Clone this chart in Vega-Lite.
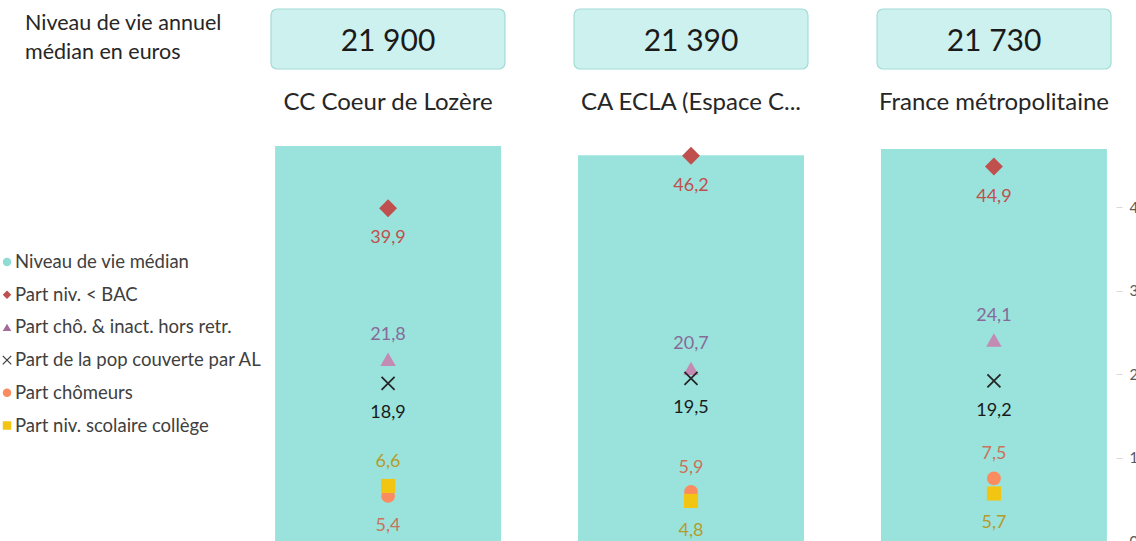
{
  "$schema": "https://vega.github.io/schema/vega-lite/v6.json",
  "padding": {"left": 0, "top": 8, "right": 0, "bottom": 0},
  "background": "white",
  "bounds": "flush",
  "columns": 2,
  "spacing": {"row": 55, "column": 16},
  "config": {
    "view": {"stroke": null},
    "font": "Lato",
    "locale": {"number": {"decimal": ",", "thousands": " ", "grouping": [3], "currency": ["", " €"]}}
  },
  "datasets": {
    "territoires": [
      {"territoire": "CC Coeur de Lozère", "niveau": 21900, "bac": 39.9, "choinact": 21.8, "al": 18.9, "chomeurs": 5.4, "college": 6.6},
      {"territoire": "CA ECLA (Espace Communautaire Lons Agglomération)", "niveau": 21390, "bac": 46.2, "choinact": 20.7, "al": 19.5, "chomeurs": 5.9, "college": 4.8},
      {"territoire": "France métropolitaine", "niveau": 21730, "bac": 44.9, "choinact": 24.1, "al": 19.2, "chomeurs": 7.5, "college": 5.7}
    ],
    "legende": [
      {"serie": "niveau", "nom": "Niveau de vie médian"},
      {"serie": "bac", "nom": "Part niv. < BAC"},
      {"serie": "choinact", "nom": "Part chô. & inact. hors retr."},
      {"serie": "al", "nom": "Part de la pop couverte par AL"},
      {"serie": "chomeurs", "nom": "Part chômeurs"},
      {"serie": "college", "nom": "Part niv. scolaire collège"}
    ]
  },
  "concat": [
    {
      "width": 250,
      "height": 60,
      "data": {"values": [{"t": "Niveau de vie annuel\nmédian en euros"}]},
      "mark": {"type": "text", "align": "left", "baseline": "top", "lineBreak": "\n", "lineHeight": 29, "fontSize": 21.5, "color": "#262626"},
      "encoding": {
        "x": {"value": 25},
        "y": {"value": 4},
        "text": {"field": "t", "type": "nominal"}
      }
    },
    {
      "width": 850,
      "height": 60,
      "data": {"name": "territoires"},
      "encoding": {
        "x": {"field": "territoire", "type": "nominal", "sort": null, "scale": {"paddingInner": 0.228, "paddingOuter": 0.0165}, "axis": null}
      },
      "layer": [
        {"mark": {"type": "rect", "cornerRadius": 6, "fill": "#cdf1ee", "stroke": "#a3dcd6", "strokeWidth": 1.2}},
        {
          "mark": {"type": "text", "fontSize": 30, "color": "#1a1a1a", "baseline": "middle", "dy": 3},
          "encoding": {"text": {"field": "niveau", "type": "quantitative", "format": ",d"}}
        }
      ]
    },
    {
      "width": 250,
      "height": 417,
      "data": {"name": "legende"},
      "encoding": {
        "y": {"field": "serie", "type": "nominal", "sort": null, "scale": {"type": "point", "padding": 0, "range": [138, 301.5]}, "axis": null}
      },
      "layer": [
        {
          "mark": {"type": "point", "filled": true, "opacity": 1, "strokeWidth": 1.3, "size": 72},
          "encoding": {
            "x": {"value": 7},
            "shape": {"field": "serie", "type": "nominal", "legend": null, "scale": {"domain": ["niveau", "bac", "choinact", "al", "chomeurs", "college"], "range": ["circle", "diamond", "triangle-up", "M-1,-1L1,1M1,-1L-1,1", "circle", "square"]}},
            "fill": {"field": "serie", "type": "nominal", "legend": null, "scale": {"domain": ["niveau", "bac", "choinact", "al", "chomeurs", "college"], "range": ["#8edcd4", "#c0504d", "#a56a9c", "transparent", "#fb8c5f", "#f2c512"]}},
            "stroke": {"field": "serie", "type": "nominal", "legend": null, "scale": {"domain": ["niveau", "bac", "choinact", "al", "chomeurs", "college"], "range": ["transparent", "transparent", "transparent", "#404040", "transparent", "transparent"]}}
          }
        },
        {
          "mark": {"type": "text", "align": "left", "baseline": "middle", "fontSize": 18.5, "color": "#404040"},
          "encoding": {
            "x": {"value": 15},
            "text": {"field": "nom", "type": "nominal"}
          }
        }
      ]
    },
    {
      "width": 850,
      "height": 417,
      "data": {"name": "territoires"},
      "encoding": {
        "x": {
          "field": "territoire", "type": "nominal", "sort": null,
          "scale": {"paddingInner": 0.254, "paddingOuter": 0.03},
          "axis": {"orient": "top", "title": null, "domain": false, "ticks": false, "tickSize": 0, "labelAngle": 0, "labelFontSize": 24, "labelColor": "#262626", "labelPadding": 10, "labelLimit": 400, "labelExpr": "length(datum.label) > 22 ? slice(datum.label, 0, 17) + '...' : datum.label"}
        }
      },
      "layer": [
        {
          "mark": {"type": "bar", "color": "#99e3dc"},
          "encoding": {"y": {"field": "niveau", "type": "quantitative", "scale": {"domain": [0, 23120]}, "axis": null}}
        },
        {
          "transform": [{"fold": ["bac", "choinact", "al", "chomeurs", "college"], "as": ["serie", "valeur"]}],
          "encoding": {
            "y": {"field": "valeur", "type": "quantitative", "scale": {"domain": [0, 50]}, "axis": {"orient": "right", "values": [0, 10, 20, 30, 40], "grid": false, "domain": false, "tickColor": "#d9d9d9", "tickSize": 6, "labelPadding": 7, "labelColor": "#595959", "labelFontSize": 15, "title": null}}
          },
          "layer": [
            {
              "transform": [{"filter": "datum.serie == 'bac'"}],
              "mark": {"type": "point", "shape": "diamond", "filled": true, "opacity": 1, "color": "#c0504d", "size": 320}
            },
            {
              "transform": [{"filter": "datum.serie == 'choinact'"}],
              "mark": {"type": "point", "shape": "triangle-up", "filled": true, "opacity": 1, "color": "#c38bb3", "size": 240}
            },
            {
              "transform": [{"filter": "datum.serie == 'al'"}],
              "mark": {"type": "point", "shape": "M-1,-1L1,1M1,-1L-1,1", "filled": false, "opacity": 1, "color": "#262626", "strokeWidth": 1.8, "size": 170}
            },
            {
              "transform": [{"filter": "datum.serie == 'chomeurs'"}],
              "mark": {"type": "point", "shape": "circle", "filled": true, "opacity": 1, "color": "#fb8c5f", "size": 190}
            },
            {
              "transform": [{"filter": "datum.serie == 'college'"}],
              "mark": {"type": "point", "shape": "square", "filled": true, "opacity": 1, "color": "#f2c512", "size": 200}
            },
            {
              "transform": [{"filter": "datum.serie == 'bac' || datum.serie == 'al' || (datum.serie == 'chomeurs' && datum.chomeurs < datum.college) || (datum.serie == 'college' && datum.college <= datum.chomeurs)"}],
              "mark": {"type": "text", "baseline": "middle", "dy": 30, "fontSize": 18},
              "encoding": {
                "text": {"field": "valeur", "type": "quantitative", "format": ".1f"},
                "color": {"field": "serie", "type": "nominal", "legend": null, "scale": {"domain": ["bac", "choinact", "al", "chomeurs", "college"], "range": ["#c0504d", "#876a98", "#1a1a1a", "#c9735a", "#b59c2c"]}}
              }
            },
            {
              "transform": [{"filter": "datum.serie == 'choinact' || (datum.serie == 'chomeurs' && datum.chomeurs >= datum.college) || (datum.serie == 'college' && datum.college > datum.chomeurs)"}],
              "mark": {"type": "text", "baseline": "middle", "dy": -24, "fontSize": 18},
              "encoding": {
                "text": {"field": "valeur", "type": "quantitative", "format": ".1f"},
                "color": {"field": "serie", "type": "nominal", "legend": null, "scale": {"domain": ["bac", "choinact", "al", "chomeurs", "college"], "range": ["#c0504d", "#876a98", "#1a1a1a", "#c9735a", "#b59c2c"]}}
              }
            }
          ]
        }
      ],
      "resolve": {"scale": {"y": "independent"}}
    }
  ]
}
